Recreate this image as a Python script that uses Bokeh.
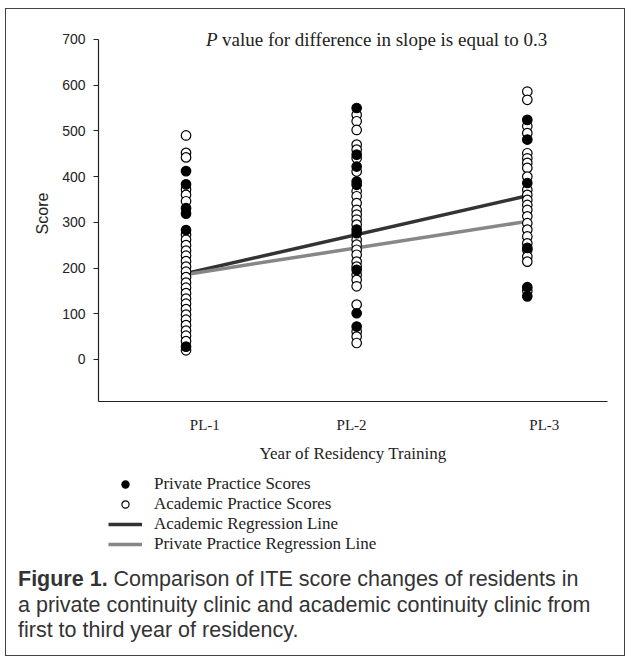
from bokeh.plotting import figure
from bokeh.models import Range1d, FixedTicker, Legend, LegendItem, Label, Div
from bokeh.layouts import column
from bokeh.embed import file_html
from bokeh.resources import INLINE

# ---------------- data ----------------
years = ["PL-1", "PL-2", "PL-3"]
year_x = [1, 2, 3]

academic_pl1 = [490, 452, 442, 372, 360, 346, 273, 262, 250, 238, 227, 215, 203,
                192, 180, 168, 157, 145, 133, 122, 110, 98, 87, 75, 63, 52, 40, 20]
private_pl1 = [412, 383, 331, 319, 283, 28]

academic_pl2 = [535, 521, 502, 470, 459, 440, 411, 368, 357, 342, 327, 317, 306,
                295, 262, 251, 240, 229, 214, 203, 185, 174, 160, 120, 61, 50, 36]
private_pl2 = [550, 448, 422, 389, 382, 284, 276, 196, 101, 72]

academic_pl3 = [586, 568, 510, 495, 451, 440, 430, 419, 400, 371, 360, 349, 338,
                327, 313, 298, 284, 269, 254, 240, 225, 214, 150]
private_pl3 = [524, 481, 386, 244, 158, 138]

academic_line = [188, 358]      # regression value at PL-1 and PL-3
private_line = [186, 302]

y_ticks = [0, 100, 200, 300, 400, 500, 600, 700]

# ---------------- build point lists ----------------
acad_groups = [academic_pl1, academic_pl2, academic_pl3]
priv_groups = [private_pl1, private_pl2, private_pl3]
acad_x, acad_y, priv_x, priv_y = [], [], [], []
for xv, g in zip(year_x, acad_groups):
    acad_x += [xv] * len(g)
    acad_y += g
for xv, g in zip(year_x, priv_groups):
    priv_x += [xv] * len(g)
    priv_y += g

SERIF = "Liberation Serif"
SANS = "Liberation Sans"
DARK = "#333333"
GRAY = "#878787"
TXT = "#222222"
W = 620
PH, LH, CH = 462, 90, 96

p = figure(width=W, height=PH, output_backend="svg", toolbar_location=None,
           x_range=Range1d(0.487, 3.47), y_range=Range1d(-92, 730.5),
           min_border_left=92, min_border_right=17, min_border_top=16,
           min_border_bottom=70)
p.outline_line_color = None
p.xgrid.visible = False
p.ygrid.visible = False
p.background_fill_color = "white"
p.border_fill_color = "white"

# regression lines
line_x = [year_x[0], year_x[-1]]
p.line(line_x, academic_line, line_color=DARK, line_width=3.5)
p.line(line_x, private_line, line_color=GRAY, line_width=3.5)

# scatter points
p.scatter(acad_x, acad_y, marker="circle", size=9.5, fill_color="white",
          line_color="black", line_width=1.2)
p.scatter(priv_x, priv_y, marker="circle", size=9.5, fill_color="black",
          line_color="black", line_width=1.2)

# y axis
ya = p.yaxis[0]
ya.ticker = FixedTicker(ticks=y_ticks)
ya.bounds = (-92, 700)
ya.axis_line_color = TXT
ya.axis_line_width = 1.2
ya.major_tick_line_color = TXT
ya.major_tick_out = 5
ya.major_tick_in = 0
ya.minor_tick_line_color = None
ya.major_label_text_font = SANS
ya.major_label_text_font_size = "14px"
ya.major_label_text_color = TXT
ya.major_label_standoff = 8
ya.axis_label = "Score"
ya.axis_label_text_font = SANS
ya.axis_label_text_font_style = "normal"
ya.axis_label_text_font_size = "16px"
ya.axis_label_text_color = TXT
ya.axis_label_standoff = 8

# x axis (labels sit slightly off the point columns in the reference)
TICK_POS = [1.11, 1.97, 3.10]
xa = p.xaxis[0]
xa.ticker = FixedTicker(ticks=TICK_POS)
xa.major_label_overrides = {t: lab for t, lab in zip(TICK_POS, years)}
xa.axis_line_color = TXT
xa.axis_line_width = 1.2
xa.major_tick_line_color = None
xa.minor_tick_line_color = None
xa.major_label_text_font = SERIF
xa.major_label_text_font_size = "15px"
xa.major_label_text_color = TXT
xa.major_label_standoff = 9
xa.axis_label = "Year of Residency Training"
xa.axis_label_text_font = SERIF
xa.axis_label_text_font_style = "normal"
xa.axis_label_text_font_size = "17px"
xa.axis_label_text_color = TXT
xa.axis_label_standoff = 8

# annotation text at top
p.add_layout(Label(x=1.117, y=700, text="P", text_font=SERIF, text_font_style="italic",
                   text_font_size="19px", text_color=TXT, text_baseline="middle"))
p.add_layout(Label(x=1.117, y=700, x_offset=16,
                   text="value for difference in slope is equal to 0.3",
                   text_font=SERIF, text_font_size="19px", text_color=TXT,
                   text_baseline="middle"))

# ---------------- legend panel ----------------
lf = figure(width=W, height=LH, output_backend="svg", toolbar_location=None,
            x_range=Range1d(0, W), y_range=Range1d(0, LH),
            x_axis_type=None, y_axis_type=None, min_border=0)
lf.outline_line_color = None
lf.xgrid.visible = False
lf.ygrid.visible = False
lf.border_fill_color = "white"
lf.background_fill_color = "white"
OFF = [-1000]  # legend-only renderers kept outside the visible range
g_priv = lf.scatter(OFF, OFF, marker="circle", size=8.5, fill_color="black",
                    line_color="black", line_width=1.2)
g_acad = lf.scatter(OFF, OFF, marker="circle", size=8.5, fill_color="white",
                    line_color="black", line_width=1.2)
g_acad_line = lf.line(OFF, OFF, line_color=DARK, line_width=3.5)
g_priv_line = lf.line(OFF, OFF, line_color=GRAY, line_width=3.5)

legend = Legend(items=[
    LegendItem(label="Private Practice Scores", renderers=[g_priv]),
    LegendItem(label="Academic Practice Scores", renderers=[g_acad]),
    LegendItem(label="Academic Regression Line", renderers=[g_acad_line]),
    LegendItem(label="Private Practice Regression Line", renderers=[g_priv_line]),
], location=(10, 7), orientation="vertical")
legend.label_text_font = SERIF
legend.label_text_font_size = "17px"
legend.label_text_color = TXT
legend.label_height = 18
legend.glyph_height = 18
legend.glyph_width = 34
legend.label_standoff = 12
legend.spacing = 0
legend.padding = 0
legend.margin = 0
legend.border_line_color = None
legend.background_fill_alpha = 0
lf.add_layout(legend)

caption = Div(
    text="<b>Figure 1.</b> Comparison of ITE score changes of residents in<br>"
         "a private continuity clinic and academic continuity clinic from<br>"
         "first to third year of residency.",
    width=W - 12, height=CH - 4,
    styles={"font-family": "'Liberation Sans', Arial, sans-serif", "font-size": "21.5px",
            "line-height": "25.5px", "color": "#333333", "padding-left": "7px",
            "padding-top": "1px", "overflow": "hidden"})

layout = column(p, lf, caption, width=W, height=PH + LH + CH,
                styles={"border": "1px solid #444444", "margin": "8px 0 0 5px",
                        "overflow": "hidden"})

open("out.html", "w").write(file_html(layout, INLINE))
